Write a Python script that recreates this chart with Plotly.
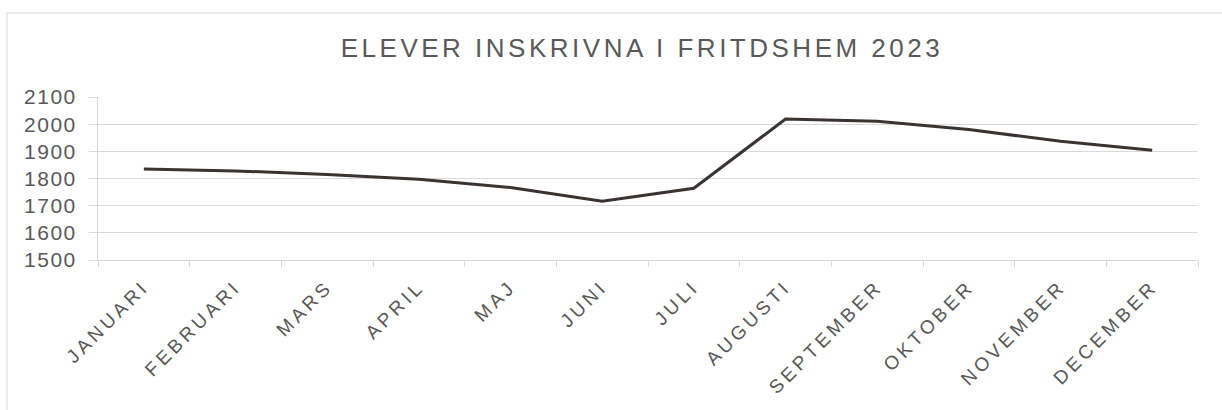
import plotly.graph_objects as go

months = ["JANUARI", "FEBRUARI", "MARS", "APRIL", "MAJ", "JUNI", "JULI",
          "AUGUSTI", "SEPTEMBER", "OKTOBER", "NOVEMBER", "DECEMBER"]
students = [1835, 1828, 1815, 1797, 1767, 1716, 1764, 2019, 2011, 1980, 1937, 1904]
y_ticks = [1500, 1600, 1700, 1800, 1900, 2000, 2100]
title_text = "ELEVER INSKRIVNA I FRITDSHEM 2023"

GRID = "#d9d9d9"
TEXT = "#595959"
FONT = "Liberation Sans, Arial, sans-serif"

fig = go.Figure()
fig.add_trace(go.Scatter(
    x=months, y=students, mode="lines",
    line=dict(color="#3b3330", width=3),
    hoverinfo="skip", showlegend=False,
))

W, H = 1222, 410
L, R, T, B = 98, 24, 97, 150
pw, ph = W - L - R, H - T - B

def px_x(p):
    return (p - L) / pw

def px_y(p):
    return (H - B - p) / ph

fig.add_shape(type="rect", xref="paper", yref="paper",
              x0=px_x(7), x1=px_x(1240), y0=px_y(420), y1=px_y(13),
              line=dict(color=GRID, width=1), fillcolor="rgba(0,0,0,0)", layer="below")

fig.update_layout(
    width=W, height=H, autosize=False,
    margin=dict(l=L, r=R, t=T, b=B),
    paper_bgcolor="white", plot_bgcolor="white",
    font=dict(family=FONT, color=TEXT),
    title=dict(text=title_text, x=642 / W, xanchor="center",
               y=1 - 48 / H, yanchor="middle",
               font=dict(size=26, color=TEXT, family=FONT)),
    xaxis=dict(
        type="category", showgrid=False, showline=True, linecolor=GRID, linewidth=1,
        ticks="outside", ticklen=6, tickcolor=GRID, tickson="boundaries",
        tickangle=-45, tickfont=dict(size=19, color=TEXT, family=FONT),
        ticklabelstandoff=7,
        range=[-0.5, len(months) - 0.5], fixedrange=True,
    ),
    yaxis=dict(
        range=[1500, 2100], tickvals=y_ticks, ticktext=[str(v) for v in y_ticks],
        showgrid=True, gridcolor=GRID, gridwidth=1, zeroline=False,
        showline=True, linecolor=GRID, linewidth=1,
        ticks="outside", ticklen=8, tickcolor=GRID,
        tickfont=dict(size=21, color=TEXT, family=FONT),
        ticklabelstandoff=8, fixedrange=True,
    ),
)

post = """
document.body.style.margin = '0';
document.body.style.overflow = 'hidden';
var gd = document.getElementById('{plot_id}');
gd.querySelectorAll('.gtitle').forEach(function(e){ e.style.letterSpacing = '3.5px'; });
gd.querySelectorAll('.xtick text').forEach(function(e){ e.style.letterSpacing = '3.8px'; });
gd.querySelectorAll('.ytick text').forEach(function(e){ e.style.letterSpacing = '1.5px'; });
"""

fig.write_html("out.html", config={"displayModeBar": False}, post_script=post)
